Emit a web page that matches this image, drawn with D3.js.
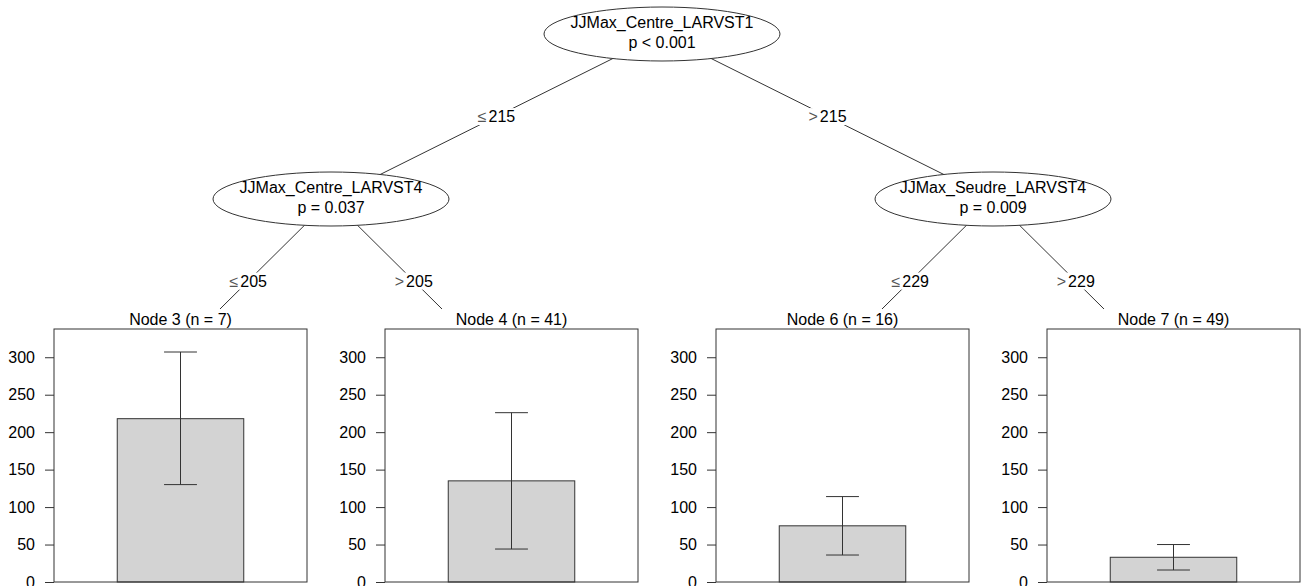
<!DOCTYPE html>
<html>
<head>
<meta charset="utf-8">
<script src="https://cdn.jsdelivr.net/npm/d3@7"></script>
<style>
  body { margin: 0; background: #fff; }
  svg { display: block; font-family: "Liberation Sans", Arial, sans-serif; }
  .axis path.domain { display: none; }
  .axis line { stroke: #333; }
  .axis text { font-size: 16px; fill: #000; }
</style>
</head>
<body>
<div id="chart"></div>
<script>
// inner (split) nodes
var innerVars = ["JJMax_Centre_LARVST1", "JJMax_Centre_LARVST4", "JJMax_Seudre_LARVST4"];
var innerP = ["p < 0.001", "p = 0.037", "p = 0.009"];
var splitPoints = [215, 205, 229];

// terminal nodes
var nodeIds = [3, 4, 6, 7];
var nodeN = [7, 41, 16, 49];
var nodeMean = [218, 135, 75, 33];
var nodeLow = [130, 44, 36, 16];
var nodeHigh = [307, 226, 114, 50];
var yTicks = [0, 50, 100, 150, 200, 250, 300];

var width = 1301, height = 586;
var fullWidth = 1324;           // plot was a bit wider than the crop
var levelY = [34, 199, 363];
var panel = {left: 54, width: 253, top: 329, bottom: 582, titleY: 325, bgTop: 309};
var ell = {rx: 118, ry: 27};

// tree structure, leaves point into the terminal arrays
var treeData = {split: 0, children: [
    {split: 1, children: [{leaf: 0}, {leaf: 1}]},
    {split: 2, children: [{leaf: 2}, {leaf: 3}]}
]};

var root = d3.hierarchy(treeData);

var xSlot = d3.scaleBand()
    .domain(nodeIds)
    .range([0, fullWidth]);

// place leaves in their slots, inner nodes midway between outer leaves
root.leaves().forEach(function (d) {
    d.x = xSlot(nodeIds[d.data.leaf]) + xSlot.bandwidth() / 2;
});
root.eachAfter(function (d) {
    if (d.children) {
        d.x = (d.children[0].x + d.children[d.children.length - 1].x) / 2;
    }
    d.y = levelY[d.depth];
});

var svg = d3.select("#chart").append("svg")
    .attr("width", width)
    .attr("height", height);

// edges
var links = root.links();
svg.selectAll(".edge")
    .data(links)
    .enter().append("line")
    .attr("class", "edge")
    .attr("x1", function (d) { return d.source.x; })
    .attr("y1", function (d) { return d.source.y; })
    .attr("x2", function (d) { return d.target.x; })
    .attr("y2", function (d) { return d.target.y; })
    .style("stroke", "#333")
    .style("stroke-width", 1);

// edge labels with white background
var labs = svg.selectAll(".edgelab")
    .data(links)
    .enter().append("g")
    .attr("class", "edgelab")
    .attr("transform", function (d) {
        return "translate(" + ((d.source.x + d.target.x) / 2) + "," + ((d.source.y + d.target.y) / 2) + ")";
    });

labs.append("rect").style("fill", "#fff");

var labText = labs.append("text")
    .attr("text-anchor", "middle")
    .attr("dy", "0.35em")
    .style("font-size", "16px");
labText.append("tspan")
    .style("fill", "#555")
    .text(function (d) { return d.target === d.source.children[0] ? "\u2264" : ">"; });
labText.append("tspan")
    .attr("dx", 2)
    .text(function (d) { return splitPoints[d.source.data.split]; });

labs.each(function () {
    var g = d3.select(this);
    var bb = g.select("text").node().getBBox();
    g.select("rect")
        .attr("x", bb.x - 2)
        .attr("y", bb.y)
        .attr("width", bb.width + 4)
        .attr("height", bb.height);
});

// terminal panels
var y = d3.scaleLinear()
    .domain([0, d3.max(nodeHigh) * 1.1])
    .range([panel.bottom, panel.top]);

var xBar = d3.scaleBand()
    .domain([0])
    .range([0, panel.width])
    .paddingInner(0)
    .paddingOuter(0.5);

var capHalf = xBar.bandwidth() * 0.13;

root.leaves().forEach(function (leaf) {
    var i = leaf.data.leaf;
    var slotX = xSlot(nodeIds[i]);

    svg.append("rect")
        .attr("x", slotX + 1)
        .attr("y", panel.bgTop)
        .attr("width", xSlot.bandwidth() - 2)
        .attr("height", height - panel.bgTop)
        .style("fill", "#fff");

    var g = svg.append("g")
        .attr("transform", "translate(" + (slotX + panel.left) + ",0)");

    g.append("text")
        .attr("x", panel.width / 2)
        .attr("y", panel.titleY)
        .attr("text-anchor", "middle")
        .style("font-size", "16px")
        .text("Node " + nodeIds[i] + " (n = " + nodeN[i] + ")");

    g.append("rect")
        .attr("x", xBar(0))
        .attr("y", y(nodeMean[i]))
        .attr("width", xBar.bandwidth())
        .attr("height", y(0) - y(nodeMean[i]))
        .style("fill", "#d3d3d3")
        .style("stroke", "#333");

    var cx = xBar(0) + xBar.bandwidth() / 2;
    g.append("line")
        .attr("x1", cx).attr("x2", cx)
        .attr("y1", y(nodeLow[i])).attr("y2", y(nodeHigh[i]))
        .style("stroke", "#333");
    [nodeLow[i], nodeHigh[i]].forEach(function (v) {
        g.append("line")
            .attr("x1", cx - capHalf).attr("x2", cx + capHalf)
            .attr("y1", y(v)).attr("y2", y(v))
            .style("stroke", "#333");
    });

    g.append("rect")
        .attr("x", 0)
        .attr("y", panel.top)
        .attr("width", panel.width)
        .attr("height", panel.bottom - panel.top)
        .style("fill", "none")
        .style("stroke", "#333");

    g.append("g")
        .attr("class", "axis")
        .call(d3.axisLeft(y).tickValues(yTicks).tickSizeInner(9).tickSizeOuter(0).tickPadding(10));
});

// inner nodes (ellipses on top of edges)
var inner = svg.selectAll(".inner")
    .data(root.descendants().filter(function (d) { return d.children; }))
    .enter().append("g")
    .attr("class", "inner")
    .attr("transform", function (d) { return "translate(" + d.x + "," + d.y + ")"; });

inner.append("ellipse")
    .attr("rx", ell.rx)
    .attr("ry", ell.ry)
    .style("fill", "#fff")
    .style("stroke", "#333");

inner.append("text")
    .attr("text-anchor", "middle")
    .attr("y", -6)
    .style("font-size", "16px")
    .text(function (d) { return innerVars[d.data.split]; });

inner.append("text")
    .attr("text-anchor", "middle")
    .attr("y", 14)
    .style("font-size", "16px")
    .text(function (d) { return innerP[d.data.split]; });
</script>
</body>
</html>
